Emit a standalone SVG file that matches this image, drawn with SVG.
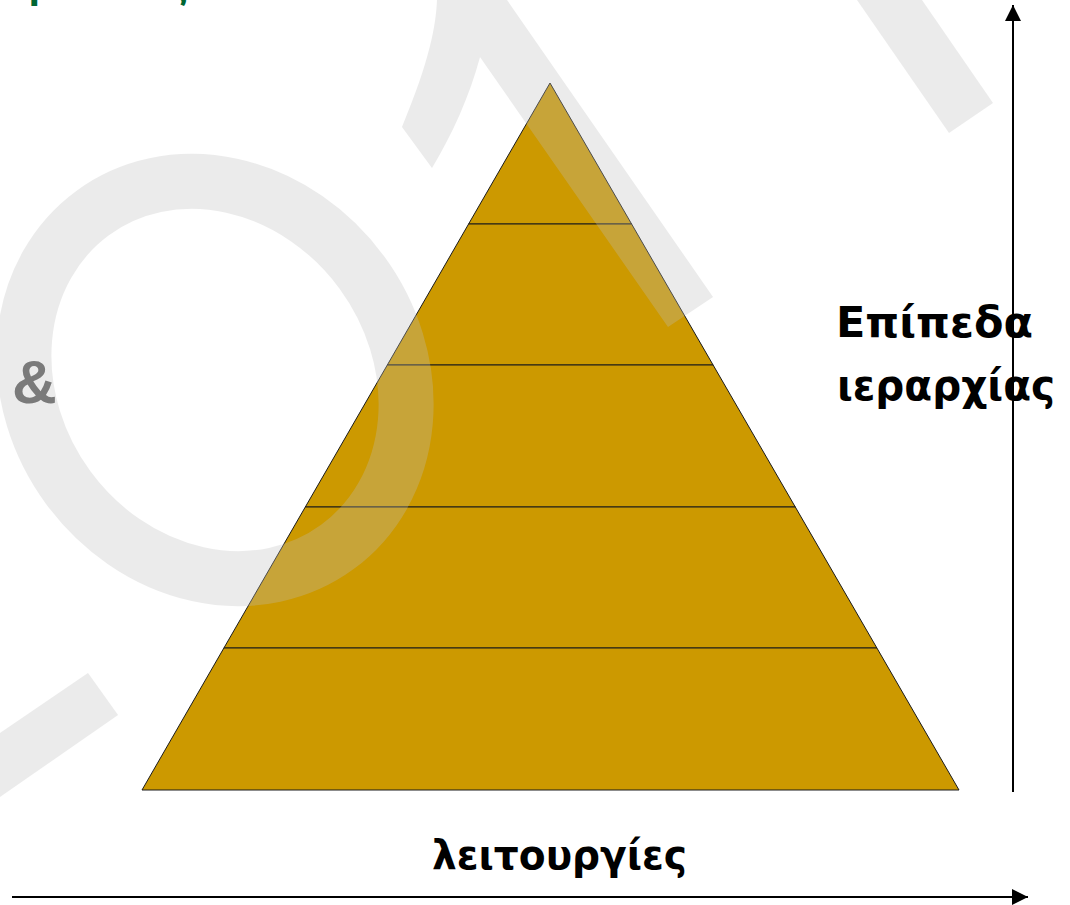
<svg xmlns="http://www.w3.org/2000/svg" width="1070" height="905" viewBox="0 0 1070 905">
<style>
.lvl{fill:#CC9900;stroke:#1a1a1a;stroke-width:1}
.lbl{font-family:"DejaVu Sans","Liberation Sans",sans-serif;font-weight:bold;fill:#000}
.axis{stroke:#000;stroke-width:2;fill:none}
</style>
<defs>
<marker id="ah" markerUnits="userSpaceOnUse" viewBox="0 0 16 16" refX="16" refY="8" markerWidth="16" markerHeight="16" orient="auto">
<path d="M0,0 L16,8 L0,16 z" fill="#000"/>
</marker>
</defs>
<rect width="1070" height="905" fill="#fff"/>
<text x="-2" y="-2" font-family="Liberation Sans, sans-serif" font-weight="bold" font-size="40" fill="#006633">Οριστικός</text>
<g id="level1"><polygon class="lvl" points="550,83 631.6,224 468.6,224"/></g>
<g id="level2"><polygon class="lvl" points="468.6,224 631.6,224 713.1,365 387.3,365"/></g>
<g id="level3"><polygon class="lvl" points="387.3,365 713.1,365 795.3,507 305.3,507"/></g>
<g id="level4"><polygon class="lvl" points="305.3,507 795.3,507 876.9,648 223.9,648"/></g>
<g id="level5"><polygon class="lvl" points="223.9,648 876.9,648 959,790 142,790"/></g>
<g id="watermark" opacity="0.3">
<ellipse cx="215" cy="380" rx="207" ry="182" transform="rotate(53.75 215 380)" fill="none" stroke="#bebebe" stroke-width="55"/>
<path d="M437,0 C436,25 430,60 402,127 L432,168 C452,135 470,95 480,57 L668,327 L713,297 L507,0 Z" fill="#bebebe"/>
<polygon points="857,0 949,133 993,103 922,0" fill="#bebebe"/>
<polygon points="0,733 88,673 118,715 0,797" fill="#bebebe"/>
</g>
<text x="12" y="403" font-family="Liberation Sans, sans-serif" font-weight="bold" font-size="62" fill="#7a7a7a">&amp;</text>
<g id="label-levels">
<text class="lbl" x="836" y="337" font-size="42" textLength="197" lengthAdjust="spacingAndGlyphs">Επίπεδα</text>
<text class="lbl" x="837" y="400" font-size="42" textLength="218" lengthAdjust="spacingAndGlyphs">ιεραρχίας</text>
</g>
<g id="label-functions">
<text class="lbl" x="432" y="869" font-size="41" textLength="255" lengthAdjust="spacingAndGlyphs">λειτουργίες</text>
</g>
<g id="connectors">
<line class="axis" x1="1013" y1="792" x2="1013" y2="5" marker-end="url(#ah)"/>
<line class="axis" x1="12" y1="897" x2="1028" y2="897" marker-end="url(#ah)"/>
</g>
</svg>
